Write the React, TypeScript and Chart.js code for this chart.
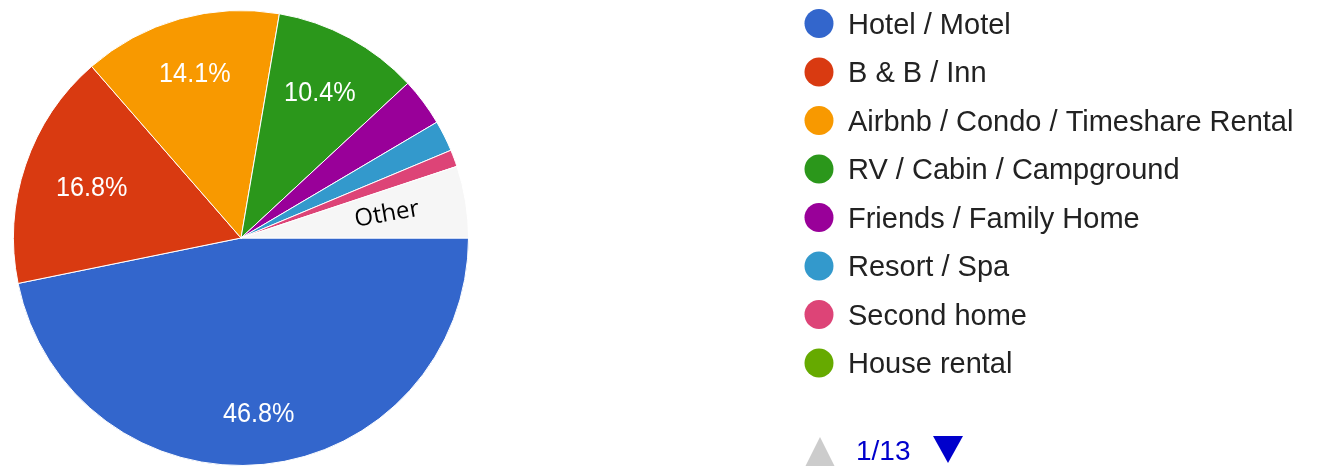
import React, { useEffect, useRef } from "react";
import { Chart, registerables } from "chart.js";

Chart.register(...registerables);

// Pie slices (clockwise from 3 o'clock)
const sliceLabels = [
  "Hotel / Motel",
  "B & B / Inn",
  "Airbnb / Condo / Timeshare Rental",
  "RV / Cabin / Campground",
  "Friends / Family Home",
  "Resort / Spa",
  "Second home",
  "Other",
];
const sliceValues = [46.8, 16.8, 14.1, 10.4, 3.4, 2.2, 1.2, 5.1];
const sliceColors = [
  "#3366cc",
  "#d93a11",
  "#f89900",
  "#2b971b",
  "#990099",
  "#3399cc",
  "#dd4477",
  "#f6f6f6",
];

// Legend (page 1 of 13)
const legendLabels = [
  "Hotel / Motel",
  "B & B / Inn",
  "Airbnb / Condo / Timeshare Rental",
  "RV / Cabin / Campground",
  "Friends / Family Home",
  "Resort / Spa",
  "Second home",
  "House rental",
];
const legendColors = [
  "#3366cc",
  "#d93a11",
  "#f89900",
  "#2b971b",
  "#990099",
  "#3399cc",
  "#dd4477",
  "#66aa00",
];
const pageText = "1/13";
const minLabelPct = 10;

const labelPlugin = {
  id: "sliceLabels",
  afterDatasetsDraw(chart: any) {
    const ctx = chart.ctx;
    const meta = chart.getDatasetMeta(0);
    const data = chart.data.datasets[0].data as number[];
    const total = data.reduce((a, b) => a + b, 0);
    meta.data.forEach((arc: any, i: number) => {
      const { x, y, startAngle, endAngle, outerRadius } = arc.getProps(
        ["x", "y", "startAngle", "endAngle", "outerRadius"],
        true
      );
      const mid = (startAngle + endAngle) / 2;
      const pct = (data[i] / total) * 100;
      const name = chart.data.labels[i];
      ctx.save();
      if (name === "Other") {
        const r = outerRadius * 0.65;
        ctx.translate(x + Math.cos(mid) * r, y + Math.sin(mid) * r);
        ctx.rotate((-10 * Math.PI) / 180);
        ctx.font = '24px "Open Sans"';
        ctx.fillStyle = "#000";
        ctx.textAlign = "center";
        ctx.textBaseline = "middle";
        ctx.fillText("Other", 0, 0);
      } else if (pct >= minLabelPct) {
        const txt = pct.toFixed(1) + "%";
        const sx = 0.9;
        ctx.font = '28px "Liberation Sans", Arial';
        const w = ctx.measureText(txt).width * sx;
        const h = 26;
        const lim = outerRadius * 0.86;
        const c = Math.abs(Math.cos(mid));
        const s = Math.abs(Math.sin(mid));
        let lo = 0;
        let hi = outerRadius;
        for (let k = 0; k < 40; k++) {
          const r = (lo + hi) / 2;
          const d = Math.hypot(r * c + w / 2, r * s + h / 2);
          if (d > lim) hi = r;
          else lo = r;
        }
        const r = lo;
        ctx.translate(x + Math.cos(mid) * r, y + Math.sin(mid) * r + 1);
        ctx.scale(sx, 1);
        ctx.fillStyle = "#ffffff";
        ctx.textAlign = "center";
        ctx.textBaseline = "middle";
        ctx.fillText(txt, 0, 0);
      }
      ctx.restore();
    });
  },
};

const legendPlugin = {
  id: "customLegend",
  afterDraw(chart: any) {
    const ctx = chart.ctx;
    const x0 = 819;
    const y0 = 23.5;
    const step = 48.5;
    ctx.save();
    legendLabels.forEach((lab, i) => {
      const cy = y0 + i * step;
      ctx.beginPath();
      ctx.arc(x0, cy, 14.5, 0, Math.PI * 2);
      ctx.fillStyle = legendColors[i];
      ctx.fill();
      ctx.font = '29px "Liberation Sans", Arial';
      ctx.fillStyle = "#222222";
      ctx.textAlign = "left";
      ctx.textBaseline = "middle";
      ctx.fillText(lab, 848, cy + 2);
    });
    // pagination
    ctx.beginPath();
    ctx.moveTo(805, 467);
    ctx.lineTo(820, 437);
    ctx.lineTo(835, 467);
    ctx.closePath();
    ctx.fillStyle = "#cccccc";
    ctx.fill();
    ctx.font = '28px "Liberation Sans", Arial';
    ctx.fillStyle = "#0000cc";
    ctx.textBaseline = "alphabetic";
    ctx.fillText(pageText, 856, 460);
    ctx.beginPath();
    ctx.moveTo(933, 436);
    ctx.lineTo(963, 436);
    ctx.lineTo(948, 463);
    ctx.closePath();
    ctx.fillStyle = "#0000cc";
    ctx.fill();
    ctx.restore();
  },
};

export default function App() {
  const ref = useRef<HTMLCanvasElement>(null);
  useEffect(() => {
    document.body.style.margin = "0";
    const chart = new Chart(ref.current!, {
      type: "pie",
      data: {
        labels: sliceLabels,
        datasets: [
          {
            data: sliceValues,
            backgroundColor: sliceColors,
            borderColor: "#ffffff",
            borderWidth: 1,
          },
        ],
      },
      options: {
        animation: false,
        responsive: false,
        rotation: 90,
        layout: { padding: { left: 13, top: 10, right: 861, bottom: 0 } },
        plugins: {
          legend: { display: false },
          tooltip: { enabled: false },
        },
      },
      plugins: [labelPlugin, legendPlugin],
    });
    return () => chart.destroy();
  }, []);
  return (
    <div style={{ width: 1330, height: 466, background: "#fff" }}>
      <canvas ref={ref} width={1330} height={466} />
    </div>
  );
}
